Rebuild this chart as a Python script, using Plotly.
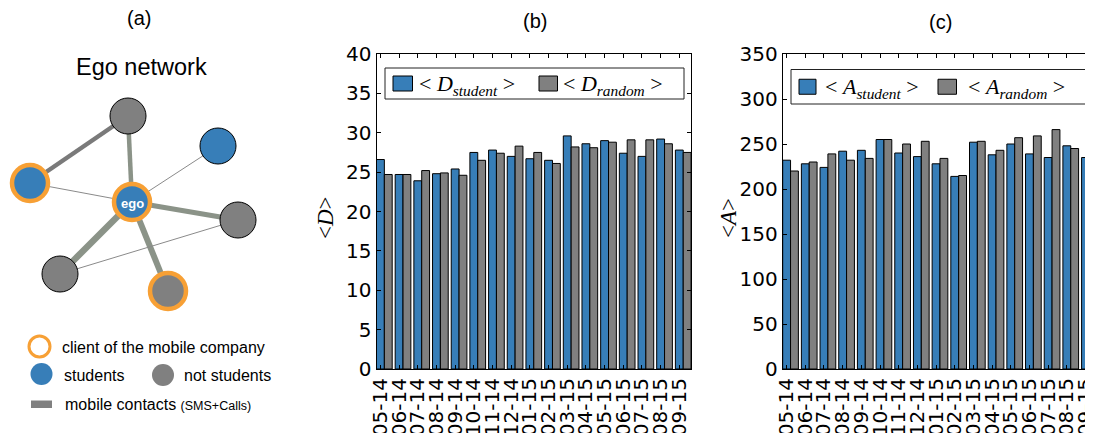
import plotly.graph_objects as go

# ---------------- data ----------------
months = ["05-14", "06-14", "07-14", "08-14", "09-14", "10-14", "11-14", "12-14",
          "01-15", "02-15", "03-15", "04-15", "05-15", "06-15", "07-15", "08-15", "09-15"]
D_student = [26.6, 24.7, 23.9, 24.8, 25.4, 27.5, 27.8, 27.0, 26.7, 26.5, 29.6, 28.6, 29.0, 27.4, 27.0, 29.2, 27.8]
D_random = [24.7, 24.7, 25.2, 24.9, 24.6, 26.5, 27.4, 28.3, 27.5, 26.1, 28.2, 28.1, 28.8, 29.1, 29.1, 28.6, 27.5]
A_student = [232, 228, 224, 242, 243, 255, 240, 236, 228, 214, 252, 238, 250, 239, 235, 248, 235]
A_random = [220, 230, 239, 232, 234, 255, 250, 253, 234, 215, 253, 243, 257, 259, 266, 245, 231]
D_ticks = [0, 5, 10, 15, 20, 25, 30, 35, 40]
A_ticks = [0, 50, 100, 150, 200, 250, 300, 350]

# ego network (panel a)
node_x = [128, 218, 30, 132, 238, 60, 168]
node_y = [116, 146, 183, 202, 220, 274, 291]
node_student = [False, True, True, True, False, False, False]
node_client = [False, False, True, True, False, False, True]
edges = [(0, 2, 4.5), (0, 3, 4.5), (2, 3, 1), (1, 3, 1), (3, 4, 5), (3, 5, 6.5), (3, 6, 6), (5, 4, 1)]

# ---------------- styles ----------------
W, H = 1093, 433
OX, OY = 8, 8          # page offset of the plot div (default body margin)
BLUE = "#377eb8"
GRAY = "#808080"
ORANGE = "#f7a035"
EDGE_THICK = "#8b9388"
BW = 0.42
PXU = 18.68            # pixels per month group
TICKFONT = dict(family="DejaVu Sans", size=20, color="black")
MATH = "Liberation Serif"
SANS = "Liberation Sans, Arial, sans-serif"


def fx(p):
    return (p - OX) / W


def fy(p):
    return 1 - (p - OY) / H


fig = go.Figure()
idx = list(range(len(months)))

for vals, col, off, xa, ya in [
    (D_student, BLUE, -BW / 2, "x", "y"),
    (D_random, GRAY, BW / 2, "x", "y"),
    (A_student, BLUE, -BW / 2, "x2", "y2"),
    (A_random, GRAY, BW / 2, "x2", "y2"),
]:
    fig.add_trace(go.Bar(x=idx, y=vals, width=BW, offset=off,
                         marker=dict(color=col, line=dict(color="black", width=1)),
                         xaxis=xa, yaxis=ya, showlegend=False, hoverinfo="skip"))

# edges of the ego network
for i, j, w in edges:
    col = EDGE_THICK if w > 2 else "#8a8a8a"
    if (i, j) == (0, 2):
        col = "#7a7a7a"
    fig.add_trace(go.Scatter(x=[node_x[i], node_x[j]], y=[node_y[i], node_y[j]],
                             mode="lines", line=dict(color=col, width=w),
                             xaxis="x3", yaxis="y3", showlegend=False, hoverinfo="skip"))

fill = [BLUE if s else GRAY for s in node_student]
lcol = [ORANGE if c else "black" for c in node_client]
lw = [4.5 if c else 1 for c in node_client]
fig.add_trace(go.Scatter(x=node_x, y=node_y, mode="markers",
                         marker=dict(size=36, color=fill, line=dict(color=lcol, width=lw)),
                         xaxis="x3", yaxis="y3", showlegend=False, hoverinfo="skip",
                         cliponaxis=False))

y_dom = [fy(369), fy(54)]
axis_common = dict(showgrid=False, zeroline=False, showline=True, linecolor="black",
                   linewidth=1, ticks="inside", ticklen=4, tickcolor="black",
                   tickfont=TICKFONT, automargin=False)
xb0, xb1 = 376.5, 691.0
xc0 = 782.7
fig.update_layout(
    width=W, height=H, margin=dict(l=0, r=0, t=0, b=0, pad=0, autoexpand=False),
    paper_bgcolor="white", plot_bgcolor="white", barmode="overlay",
    xaxis=dict(domain=[fx(xb0), fx(xb1)], range=[-BW / 2, -BW / 2 + (xb1 - xb0) / PXU],
               tickvals=idx, ticktext=months, tickangle=-90, mirror="ticks",
               anchor="y", **axis_common),
    yaxis=dict(domain=y_dom, range=[0, 40], tickvals=D_ticks, mirror="ticks",
               anchor="x", **axis_common),
    xaxis2=dict(domain=[fx(xc0), 1.0],
                range=[-BW / 2, -BW / 2 + (W + OX - xc0) / PXU],
                tickvals=idx, ticktext=months, tickangle=-90, mirror="ticks",
                anchor="y2", **axis_common),
    yaxis2=dict(domain=y_dom, range=[0, 350], tickvals=A_ticks, mirror=False,
                anchor="x2", **axis_common),
    xaxis3=dict(domain=[0, fx(300)], range=[OX, 300], visible=False, anchor="y3",
                automargin=False),
    yaxis3=dict(domain=[0, 1], range=[H + OY, OY], visible=False, anchor="x3",
                automargin=False),
)

ann = []
shapes = []

# panel titles
for txt, x, y in [("(a)", 139, 18), ("(b)", 535, 21), ("(c)", 940, 22)]:
    ann.append(dict(text=txt, x=fx(x), y=fy(y), xref="paper", yref="paper",
                    showarrow=False, xanchor="center", yanchor="middle",
                    font=dict(family=SANS, size=20, color="black")))

# y axis labels
for txt, x in [("&lt;<i>D</i>&gt;", 325), ("&lt;<i>A</i>&gt;", 728)]:
    ann.append(dict(text=txt, x=fx(x), y=fy(218), xref="paper", yref="paper",
                    showarrow=False, textangle=-90, xanchor="center", yanchor="middle",
                    font=dict(family=MATH, size=23, color="black")))

# legends of (b) and (c)
for box, patches, labels in [
    ((385, 68, 684, 99), [(393, 412.5, BLUE, 417), (539, 557.5, GRAY, 561)],
     ["&lt; <i>D</i><sub><i>student</i></sub> &gt;", "&lt; <i>D</i><sub><i>random</i></sub> &gt;"]),
    ((791, 69.5, 1088, 104), [(799, 816, BLUE, 823), (938, 956.5, GRAY, 966)],
     ["&lt; <i>A</i><sub><i>student</i></sub> &gt;", "&lt; <i>A</i><sub><i>random</i></sub> &gt;"]),
]:
    x0, y0, x1, y1 = box
    shapes.append(dict(type="rect", xref="paper", yref="paper", x0=fx(x0), x1=fx(x1),
                       y0=fy(y0), y1=fy(y1), line=dict(color="#222222", width=1),
                       fillcolor="white", layer="above"))
    yc = (y0 + y1) / 2
    for (px0, px1, col, tx), lab in zip(patches, labels):
        shapes.append(dict(type="rect", xref="paper", yref="paper", x0=fx(px0), x1=fx(px1),
                           y0=fy(yc - 7.5), y1=fy(yc + 7.5), line=dict(color="black", width=1),
                           fillcolor=col, layer="above"))
        ann.append(dict(text=lab, x=fx(tx), y=fy(yc + 1), xref="paper", yref="paper",
                        xanchor="left", yanchor="middle", showarrow=False,
                        font=dict(family=MATH, size=22, color="black")))

# panel (a) texts
ann.append(dict(text="Ego network", x=141, y=67, xref="x3", yref="y3", showarrow=False,
                xanchor="center", yanchor="middle",
                font=dict(family=SANS, size=23.5, color="black")))
ann.append(dict(text="<b>ego</b>", x=node_x[3], y=node_y[3] + 1, xref="x3", yref="y3",
                showarrow=False, xanchor="center", yanchor="middle",
                font=dict(family=SANS, size=13, color="white")))

# panel (a) legend
shapes.append(dict(type="circle", xref="x3", yref="y3", x0=29, x1=50, y0=336, y1=357,
                   line=dict(color=ORANGE, width=3), fillcolor="white"))
shapes.append(dict(type="circle", xref="x3", yref="y3", x0=30.5, x1=52.5, y0=363, y1=385,
                   line=dict(width=0), fillcolor=BLUE))
shapes.append(dict(type="circle", xref="x3", yref="y3", x0=152, x1=174, y0=364, y1=386,
                   line=dict(width=0), fillcolor=GRAY))
shapes.append(dict(type="rect", xref="x3", yref="y3", x0=31, x1=52, y0=400.5, y1=408,
                   line=dict(width=0), fillcolor=GRAY))
for txt, x, y in [("client of the mobile company", 60, 347), ("students", 62, 375),
                  ("not students", 182, 375),
                  ("mobile contacts <span style='font-size:12.5px'>(SMS+Calls)</span>", 63, 404)]:
    ann.append(dict(text=txt, x=x, y=y, xref="x3", yref="y3", xanchor="left",
                    yanchor="middle", showarrow=False,
                    font=dict(family=SANS, size=16, color="black")))

fig.update_layout(annotations=ann, shapes=shapes)
fig.write_html("out.html")
